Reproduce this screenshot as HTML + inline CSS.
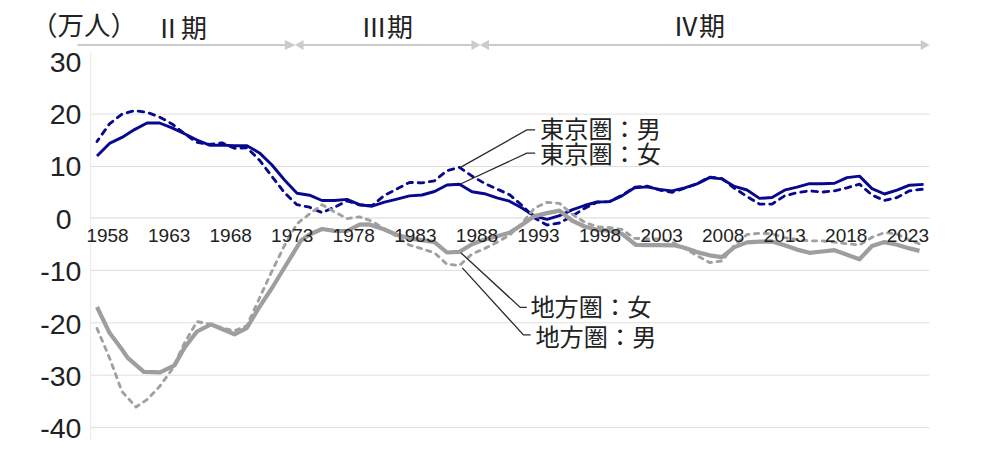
<!DOCTYPE html>
<html lang="ja"><head><meta charset="utf-8"><title>chart</title>
<style>html,body{margin:0;padding:0;background:#fff;overflow:hidden;width:1000px;height:453px;font-family:"Liberation Sans","Noto Sans CJK JP",sans-serif;}svg{display:block}</style>
</head><body>
<svg width="1000" height="453" viewBox="0 0 1000 453">
<rect width="1000" height="453" fill="#ffffff"/>
<line x1="91" y1="114.1" x2="929.5" y2="114.1" stroke="#dddddd" stroke-width="0.95"/>
<line x1="91" y1="166.5" x2="929.5" y2="166.5" stroke="#dddddd" stroke-width="0.95"/>
<line x1="91" y1="217.9" x2="929.5" y2="217.9" stroke="#e8e8e8" stroke-width="1.7"/>
<line x1="91" y1="270.4" x2="929.5" y2="270.4" stroke="#dddddd" stroke-width="0.95"/>
<line x1="91" y1="322.8" x2="929.5" y2="322.8" stroke="#dddddd" stroke-width="0.95"/>
<line x1="91" y1="375.2" x2="929.5" y2="375.2" stroke="#dddddd" stroke-width="0.95"/>
<line x1="91" y1="427.6" x2="929.5" y2="427.6" stroke="#dddddd" stroke-width="0.95"/>
<line x1="90.6" y1="52" x2="90.6" y2="440" stroke="#ececec" stroke-width="1.2"/>
<line x1="77.5" y1="45" x2="286" y2="45" stroke="#cbcbcb" stroke-width="1.9"/>
<line x1="302.5" y1="45" x2="472.6" y2="45" stroke="#cbcbcb" stroke-width="1.9"/>
<line x1="488" y1="45" x2="922" y2="45" stroke="#cbcbcb" stroke-width="1.9"/>
<polygon points="284.8,39.9 295.6,45 284.8,50.1" fill="#cbcbcb"/>
<polygon points="303.5,39.9 294.9,45 303.5,50.1" fill="#cbcbcb"/>
<polygon points="471.5,39.9 480.4,45 471.5,50.1" fill="#cbcbcb"/>
<polygon points="489.0,39.9 479.9,45 489.0,50.1" fill="#cbcbcb"/>
<polygon points="920.8,39.9 929.6,45 920.8,50.1" fill="#cbcbcb"/>
<polyline points="97,156 109.5,143.4 122,137.4 134.5,129.6 147,123 159.5,123 172,127.9 184.5,133.7 197,140 209.5,145.2 222,145.1 234.5,145.8 247,145.8 259.5,152.9 272,165 284.5,180 297,193.3 309.5,195.2 322,200.5 334.5,200.5 347,199.4 359.5,204.7 372,206.2 384.5,202.2 397,199.1 409.5,195.9 422,195 434.5,191.5 447,185 459.5,184.2 472,191.8 484.5,193.7 497,197.8 509.5,201.2 522,208 534.5,216 547,219.3 559.5,215.6 572,209.9 584.5,205.5 597,202 609.5,201.6 622,195.9 634.5,187.7 647,186.9 659.5,189.4 672,190.9 684.5,187.9 697,183.9 709.5,177.6 722,178.9 734.5,186.4 747,190 759.5,198.4 772,197.5 784.5,190.2 797,187.1 809.5,183.7 822,183.7 834.5,183.3 847,177.6 859.5,176.1 872,188.6 884.5,194 897,190.2 909.5,185.2 923.6,184.4" fill="none" stroke="#08088f" stroke-width="2.9" stroke-linejoin="round"/>
<polyline points="97,141.5 109.5,123.9 122,114.1 134.5,110.7 147,112.3 159.5,117 172,123.9 184.5,133.7 197,142.4 209.5,144.4 222,142.8 234.5,148.3 247,147.7 259.5,160.2 272,176.5 284.5,192.7 297,204.7 309.5,207.2 322,212.6 334.5,207.2 347,200.9 359.5,204.8 372,205.6 384.5,195.3 397,189 409.5,182.4 422,182.9 434.5,180.8 447,170.7 459.5,167.3 472,176.1 484.5,183.3 497,189 509.5,194.7 522,205.4 534.5,218.1 547,225 559.5,223 572,216.2 584.5,208.4 597,202.2 609.5,201.6 622,195.3 634.5,187.1 647,186.1 659.5,190 672,192.3 684.5,188.3 697,183.9 709.5,177 722,178.6 734.5,188.3 747,196.5 759.5,204.1 772,204.1 784.5,195.9 797,192.7 809.5,190.8 822,192.1 834.5,190.8 847,187.8 859.5,184.2 872,195 884.5,200.5 897,197.5 909.5,190.8 923.6,189.1" fill="none" stroke="#08088f" stroke-width="2.85" stroke-dasharray="5.5 5.8" stroke-dashoffset="2.3" stroke-linecap="round" stroke-linejoin="round"/>
<polyline points="97,307 109.5,332.8 122,349.5 127.5,357.6 143.9,371.9 160.2,372.3 174.5,365.4 184.5,347.6 197,331.5 211,324.4 222,329 234.5,334.3 247,327.8 259.5,306.8 272,288 284.5,267.5 301,240.5 309.5,234.5 322,229 334.5,230.8 347,231 359.5,224.6 369.5,224.4 384.5,229.5 397,235 409.5,238.3 422,240.2 434.5,242.1 447,252.5 459.5,251.8 472,244.2 484.5,239.5 497,236.2 509.5,232.8 522,224.7 534.5,216.1 547,213.1 559.5,210.6 572,220.7 584.5,226.5 597,229.8 609.5,230.7 622,233.9 636,245 647,245.2 659.5,245.2 675,245.4 684.5,247.8 697,252.1 709.5,255.3 722,257.2 734.5,247.1 747,242.4 759.5,241.7 772,241.4 784.5,245.2 797,249.6 809.5,252.8 822,251.5 834.5,250.2 847,254.7 859.5,259.3 872,246 884.5,242.1 897,244.8 909.5,248.4 919.5,250.9" fill="none" stroke="#9e9e9e" stroke-width="4.2" stroke-linejoin="round"/>
<polyline points="97,328.4 109.5,357.9 122,391.5 136,407 147,399.6 159.5,386.6 172,369.5 184.5,343 197,321.6 209.5,324 222,327.8 234.5,330.9 247,325.5 259.5,298 272,271 284.5,245.5 297,223.7 309.5,214 322,204.7 334.5,211.9 347,218.6 359.5,216.8 372,221.2 384.5,229 397,236.5 409.5,245.2 422,248.7 434.5,252.8 447,264.3 459.5,265.4 472,254 484.5,248.6 497,242.3 509.5,235.3 522,223.3 534.5,208.1 547,202.3 559.5,203.4 572,214 584.5,222.2 597,226.7 609.5,227.6 622,229.5 634.5,238.3 647,238.9 659.5,238.9 672,242.1 684.5,248.4 697,255.6 709.5,262.6 722,260.9 734.5,245.2 747,234.5 759.5,233.3 772,233.9 784.5,237.7 797,239.5 809.5,240.8 822,240.8 834.5,242.1 847,243.7 859.5,245 872,237.3 884.5,232.6 897,234 909.5,240.2 923.6,245.4" fill="none" stroke="#a0a0a0" stroke-width="2.85" stroke-dasharray="4.2 5.6" stroke-linecap="round" stroke-linejoin="round"/>
<polyline points="460.9,167.1 526.8,129.9 535.2,129.9" fill="none" stroke="#2a2a2a" stroke-width="1.3"/>
<polyline points="460.5,184 526.8,153.1 535.2,153.1" fill="none" stroke="#2a2a2a" stroke-width="1.3"/>
<polyline points="460.8,252.7 520.2,307.4 526.8,307.4" fill="none" stroke="#2a2a2a" stroke-width="1.3"/>
<polyline points="462.3,267.9 523.4,334.9 530.6,334.9" fill="none" stroke="#2a2a2a" stroke-width="1.3"/>
<g font-family="'Liberation Sans', 'Noto Sans CJK JP', sans-serif" fill="#222222">
<text x="31" y="34.6" font-size="26.5">（万人）</text>
<text x="155" y="38.4" font-size="26">Ⅱ期</text><text x="361" y="36.6" font-size="26">Ⅲ期</text><text x="673" y="36" font-size="26">Ⅳ期</text>
<text x="81.4" y="71.7" font-size="28.5" text-anchor="end">30</text>
<text x="81.4" y="124.0" font-size="28.5" text-anchor="end">20</text>
<text x="81.4" y="176.4" font-size="28.5" text-anchor="end">10</text>
<text x="71.6" y="228.7" font-size="28.5" text-anchor="end">0</text>
<text x="81.4" y="281.3" font-size="28.5" text-anchor="end">-10</text>
<text x="81.4" y="333.7" font-size="28.5" text-anchor="end">-20</text>
<text x="81.4" y="385.6" font-size="28.5" text-anchor="end">-30</text>
<text x="81.4" y="438.0" font-size="28.5" text-anchor="end">-40</text>
<text x="128.7" y="241.7" font-size="19" text-anchor="end">1958</text>
<text x="190.3" y="241.7" font-size="19" text-anchor="end">1963</text>
<text x="251.8" y="241.7" font-size="19" text-anchor="end">1968</text>
<text x="313.4" y="241.7" font-size="19" text-anchor="end">1973</text>
<text x="374.9" y="241.7" font-size="19" text-anchor="end">1978</text>
<text x="436.5" y="241.7" font-size="19" text-anchor="end">1983</text>
<text x="498.1" y="241.7" font-size="19" text-anchor="end">1988</text>
<text x="559.6" y="241.7" font-size="19" text-anchor="end">1993</text>
<text x="621.2" y="241.7" font-size="19" text-anchor="end">1998</text>
<text x="682.8" y="241.7" font-size="19" text-anchor="end">2003</text>
<text x="744.3" y="241.7" font-size="19" text-anchor="end">2008</text>
<text x="805.9" y="241.7" font-size="19" text-anchor="end">2013</text>
<text x="867.4" y="241.7" font-size="19" text-anchor="end">2018</text>
<text x="929.0" y="241.7" font-size="19" text-anchor="end">2023</text>
<text x="540" y="138.3" font-size="24.2">東京圏：男</text><text x="540" y="162.6" font-size="24.2">東京圏：女</text>
<text x="530.4" y="316.3" font-size="24.2">地方圏：女</text><text x="535.4" y="345.5" font-size="24.2">地方圏：男</text>
</g>
</svg>
</body></html>
